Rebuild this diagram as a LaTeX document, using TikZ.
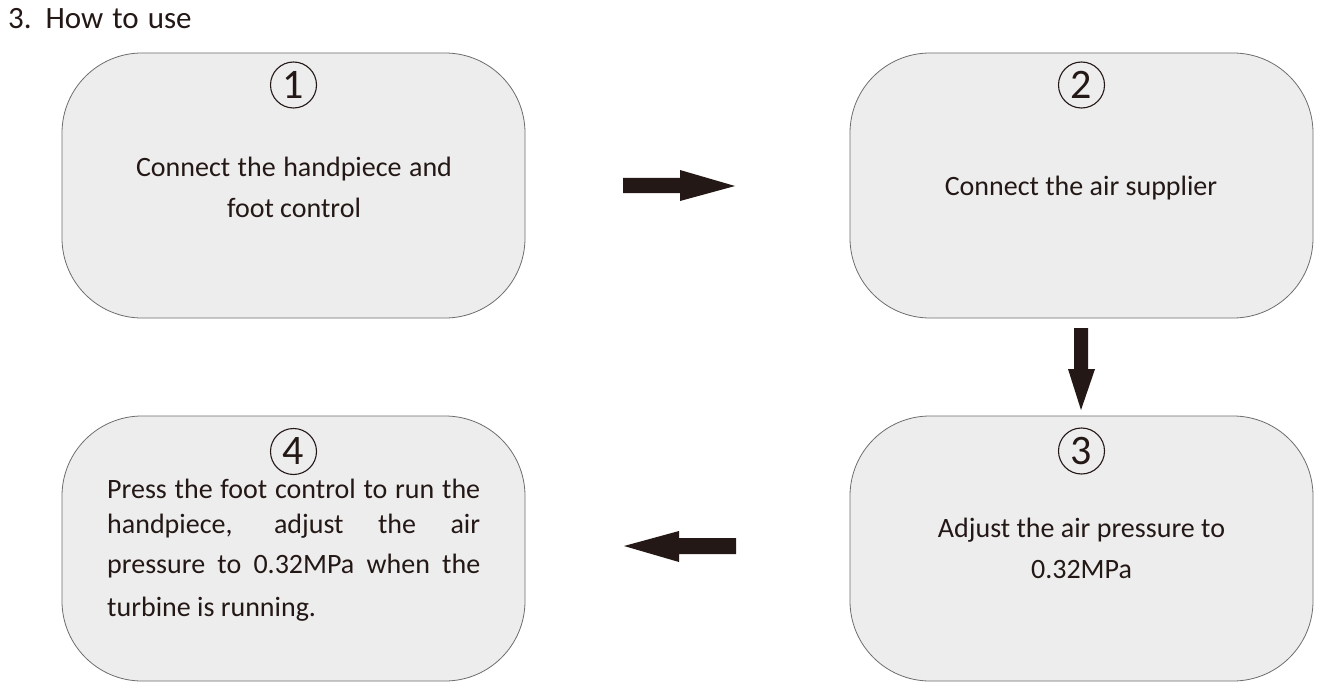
\documentclass[tikz,border=0pt]{standalone}
\usepackage{fontspec}
\setmainfont{Carlito}
\definecolor{ink}{RGB}{35,24,21}
\definecolor{boxfill}{RGB}{237,237,237}
\definecolor{boxline}{RGB}{110,110,110}
\begin{document}
\begin{tikzpicture}[x=1pt,y=-1pt,
  stepbox/.style={draw=boxline,fill=boxfill,line width=0.8pt,rounded corners=80pt},
  numcirc/.style={circle,draw=ink,line width=1.1pt,inner sep=0pt,minimum size=46pt,
     font=\fontsize{42}{42}\selectfont,text=ink},
  txt/.style={anchor=base,inner sep=0pt,font=\fontsize{28}{28}\selectfont,text=ink},
  txtw/.style={anchor=base west,inner sep=0pt,font=\fontsize{28}{28}\selectfont,text=ink},
  blockarrow/.style={fill=ink,draw=none}]
\useasboundingbox (0,0) rectangle (1339,698);
\fill[white] (0,0) rectangle (1339,698);
% title
\node[txtw,font=\fontsize{31}{31}\selectfont] (title) at (8,29) {3.\hspace{0.45em}\makebox[146pt][s]{How to use}};
% boxes
\draw[stepbox] (62,53) rectangle (525,318);
\draw[stepbox] (850,53) rectangle (1313,318);
\draw[stepbox] (850,416) rectangle (1313,681);
\draw[stepbox] (62,416) rectangle (525,681);
% circled numbers
\node[numcirc] (n1) at (293.5,85) {1};
\node[numcirc] (n2) at (1081.5,85) {2};
\node[numcirc] (n3) at (1081.5,451) {3};
\node[numcirc] (n4) at (293.5,451.5) {4};
% texts
\node[txt] (t1a) at (294,177) {\makebox[316pt][s]{Connect the handpiece and}};
\node[txt] (t1b) at (294,217) {foot control};
\node[txt] (t2) at (1081,195) {Connect the air supplier};
\node[txt] (t3a) at (1081.5,537) {Adjust the air pressure to};
\node[txt] (t3b) at (1081.5,578) {0.32MPa};
\node[txtw] (t4a) at (107,498) {\makebox[373pt][s]{Press the foot control to run the}};
\node[txtw] (t4b) at (107,533) {\makebox[373pt][s]{handpiece, adjust the air}};
\node[txtw] (t4c) at (107,573) {\makebox[373pt][s]{pressure to 0.32MPa when the}};
\node[txtw] (t4d) at (107,616) {turbine is running.};
% arrows
\fill[blockarrow] (623,178) -- (680,178) -- (680,170) -- (735,186) -- (680,201) -- (680,193) -- (623,193) -- cycle;
\fill[blockarrow] (1074,328) -- (1088,328) -- (1088,369) -- (1095,369) -- (1081,410) -- (1068,369) -- (1074,369) -- cycle;
\fill[blockarrow] (736,538) -- (679,538) -- (679,531) -- (624,546) -- (679,562) -- (679,554) -- (736,554) -- cycle;
\end{tikzpicture}
\end{document}
